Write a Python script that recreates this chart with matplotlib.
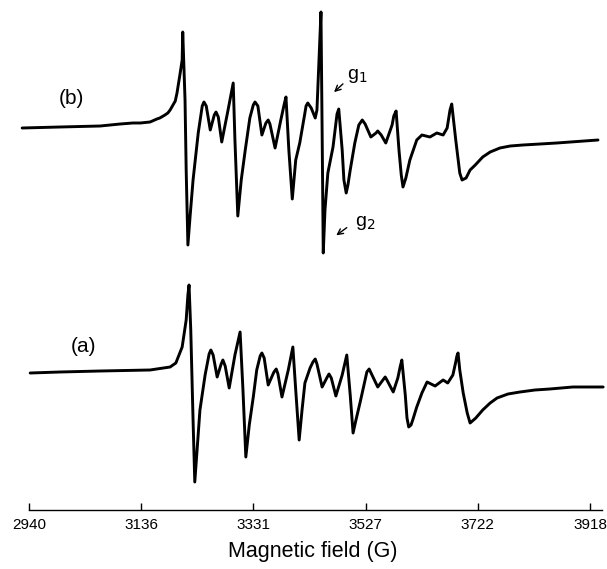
import matplotlib
matplotlib.use("Agg")
import matplotlib.pyplot as plt

plt.rcParams['font.family'] = ['Liberation Sans', 'DejaVu Sans']

puntos_b = [
    (2928, 0), (2994, 1), (3064, 2), (3099, 4), (3121, 5), (3134, 5), (3151, 6),
    (3163, 9), (3168, 10), (3177, 13), (3182, 15), (3186, 18), (3191, 23),
    (3195, 27), (3198, 35), (3203, 53), (3207, 68), (3208, 96), (3212, 28),
    (3214, -42), (3217, -117), (3221, -87), (3226, -52), (3235, -5), (3242, 22),
    (3245, 26), (3249, 22), (3256, -2), (3263, 13), (3266, 16), (3270, 11),
    (3276, -14), (3287, 18), (3296, 45), (3299, -12), (3304, -88), (3310, -52),
    (3317, -22), (3325, 10), (3331, 23), (3334, 26), (3339, 22), (3346, -7),
    (3353, 5), (3357, 8), (3360, 4), (3369, -20), (3379, 8), (3385, 24),
    (3388, 31), (3393, -22), (3399, -71), (3405, -32), (3412, -15), (3421, 15),
    (3423, 22), (3426, 25), (3432, 20), (3439, 10), (3442, 18), (3447, 88),
    (3449, 116), (3451, -2), (3453, -125), (3456, -82), (3461, -45), (3470, -19),
    (3477, 14), (3480, 19), (3486, -22), (3489, -52), (3493, -65), (3496, -57),
    (3500, -42), (3508, -15), (3515, 3), (3521, 8), (3526, 4), (3536, -9),
    (3545, -5), (3548, -3), (3554, -7), (3562, -15), (3573, 3), (3576, 12),
    (3580, 17), (3585, -22), (3589, -47), (3592, -59), (3597, -50), (3604, -32),
    (3616, -12), (3625, -7), (3639, -9), (3651, -5), (3662, -7), (3669, 0),
    (3674, 18), (3677, 24), (3684, -12), (3691, -45), (3695, -52), (3702, -50),
    (3709, -42), (3718, -37), (3731, -29), (3744, -24), (3761, -20), (3779, -18),
    (3801, -17), (3831, -16), (3860, -15), (3932, -12),
]

# espectro (a)
puntos_a = [
    (2942, -3), (2994, -2), (3064, -1), (3151, 0), (3186, 3), (3196, 7),
    (3207, 23), (3214, 50), (3217, 75), (3219, 85), (3222, 40), (3226, -50),
    (3229, -112), (3233, -80), (3238, -40), (3247, -5), (3254, 16), (3257, 20),
    (3261, 15), (3268, -7), (3275, 6), (3278, 10), (3282, 4), (3289, -18),
    (3299, 15), (3308, 38), (3313, -20), (3318, -87), (3324, -55), (3331, -27),
    (3337, 0), (3343, 14), (3346, 17), (3350, 12), (3357, -15), (3367, -2),
    (3371, 1), (3374, -4), (3381, -27), (3392, 0), (3400, 23), (3405, -20),
    (3411, -70), (3416, -40), (3421, -13), (3430, 2), (3435, 8), (3439, 11),
    (3442, 6), (3451, -17), (3460, -7), (3463, -4), (3467, -8), (3475, -26),
    (3486, -5), (3494, 15), (3500, -25), (3505, -63), (3510, -50), (3517, -33),
    (3524, -15), (3529, -2), (3533, 1), (3538, -5), (3548, -17), (3557, -10),
    (3561, -7), (3564, -10), (3575, -22), (3583, -8), (3587, 3), (3590, 10),
    (3596, -25), (3599, -48), (3602, -57), (3606, -55), (3609, -50), (3616, -37),
    (3625, -23), (3634, -12), (3648, -16), (3662, -10), (3670, -13), (3679, -5),
    (3684, 8), (3686, 14), (3688, 17), (3691, 0), (3697, -23), (3704, -43),
    (3709, -53), (3719, -48), (3731, -40), (3744, -33), (3756, -28), (3775, -24),
    (3796, -22), (3822, -20), (3848, -19), (3888, -17), (3941, -17),
]

ticks = [2940, 3136, 3331, 3527, 3722, 3918]

W, H = 607, 569


def main():
    fig = plt.figure(figsize=(W / 100, H / 100), dpi=100)
    ax = fig.add_axes([0, 0, 1, 1])

    # desplazamos cada espectro a su línea base
    for puntos, base in ((puntos_b, -128), (puntos_a, -370)):
        campo = [p[0] for p in puntos]
        senal = [base + p[1] for p in puntos]
        ax.plot(campo, senal, color='black', lw=2.1,
                solid_joinstyle='round', solid_capstyle='round')

    ax.set_xlim(2889.4, 3947.7)
    ax.set_ylim(-H, 0)

    for s in ['left', 'right', 'top']:
        ax.spines[s].set_visible(False)
    ax.spines['bottom'].set_position(('data', -510))
    ax.spines['bottom'].set_bounds(2940, 3939)
    ax.spines['bottom'].set_linewidth(1.0)
    ax.set_yticks([])
    ax.set_xticks(ticks)
    ax.set_xticklabels([str(t) for t in ticks])
    ax.tick_params(axis='x', direction='in', length=5, width=1.0, pad=6,
                   labelsize=11)

    fig.text(313 / W, 1 - 551 / H, 'Magnetic field (G)', fontsize=15.5,
             ha='center', va='center')

    fig.text(71 / W, 1 - 98 / H, '(b)', fontsize=15, ha='center', va='center')
    fig.text(83 / W, 1 - 347 / H, '(a)', fontsize=15, ha='center', va='center')

    # marcas g1 y g2
    fig.text(357 / W, 1 - 76 / H, 'g$_1$', fontsize=14, ha='center', va='center')
    fig.text(365 / W, 1 - 223 / H, 'g$_2$', fontsize=14, ha='center', va='center')
    ax.annotate('', xy=(332, H - 94), xytext=(345, H - 82),
                xycoords='figure pixels', textcoords='figure pixels',
                arrowprops=dict(arrowstyle='->', lw=1.0, color='black'))
    ax.annotate('', xy=(334, H - 237), xytext=(349, H - 226),
                xycoords='figure pixels', textcoords='figure pixels',
                arrowprops=dict(arrowstyle='->', lw=1.0, color='black'))

    fig.savefig('out.png', dpi=100, facecolor='white')


if __name__ == "__main__":
    main()
